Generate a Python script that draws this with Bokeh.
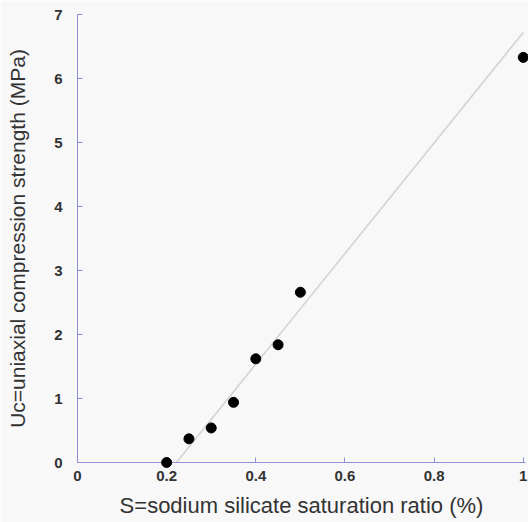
from bokeh.plotting import figure
from bokeh.models import Range1d, ColumnDataSource
from bokeh.embed import file_html
from bokeh.resources import INLINE

# Measured strength vs. sodium silicate saturation ratio
ratio = [0.2, 0.25, 0.3, 0.35, 0.4, 0.45, 0.5, 1.0]
strength = [0.0, 0.37, 0.54, 0.94, 1.62, 1.84, 2.66, 6.33]

# Linear trend line end points
fit_ratio = [0.222, 1.0]
fit_strength = [0.0, 6.72]

x_ticks = [0, 0.2, 0.4, 0.6, 0.8, 1]
y_ticks = [0, 1, 2, 3, 4, 5, 6, 7]

AXIS_COLOR = "#8f8fd6"
TEXT_COLOR = "#333333"
FONT = "Liberation Sans"

p = figure(width=528, height=522, output_backend="svg", toolbar_location=None,
           x_range=Range1d(0, 1.005), y_range=Range1d(0, 7.0),
           min_border_left=77, min_border_right=3, min_border_top=14,
           min_border_bottom=60, background_fill_color="#f8f8f8",
           border_fill_color="#f8f8f8", outline_line_color=None)
p.grid.visible = False

p.line(fit_ratio, fit_strength, line_color="#d4d4d4", line_width=1.6)
src = ColumnDataSource(dict(x=ratio, y=strength))
# overlay level so markers sitting on the frame edge are not cut off
p.scatter("x", "y", source=src, size=10, fill_color="black",
          line_color="black", level="overlay")

for ax in (p.xaxis[0], p.yaxis[0]):
    ax.axis_line_color = AXIS_COLOR
    ax.major_tick_line_color = AXIS_COLOR
    ax.minor_tick_line_color = AXIS_COLOR
    ax.major_tick_in = 5
    ax.major_tick_out = 0
    ax.minor_tick_in = 3
    ax.minor_tick_out = 0
    ax.major_label_text_font = FONT
    ax.major_label_text_font_style = "bold"
    ax.major_label_text_font_size = "15px"
    ax.major_label_text_color = TEXT_COLOR
    ax.axis_label_text_font = FONT
    ax.axis_label_text_font_style = "normal"
    ax.axis_label_text_color = TEXT_COLOR

p.xaxis.ticker = x_ticks
p.yaxis.ticker = y_ticks
p.xaxis[0].ticker.num_minor_ticks = 4
p.yaxis[0].ticker.num_minor_ticks = 4
p.xaxis.major_label_overrides = {0: "0", 1: "1"}

p.xaxis.axis_label = "S=sodium silicate saturation ratio (%)"
p.xaxis.axis_label_text_font_size = "22px"
p.xaxis.major_label_standoff = 8
p.xaxis.axis_label_standoff = 9

p.yaxis.axis_label = "Uc=uniaxial compression strength (MPa)"
p.yaxis.axis_label_text_font_size = "21px"
p.yaxis.major_label_standoff = 15
p.yaxis.axis_label_standoff = 22

open("out.html", "w").write(file_html(p, INLINE))
